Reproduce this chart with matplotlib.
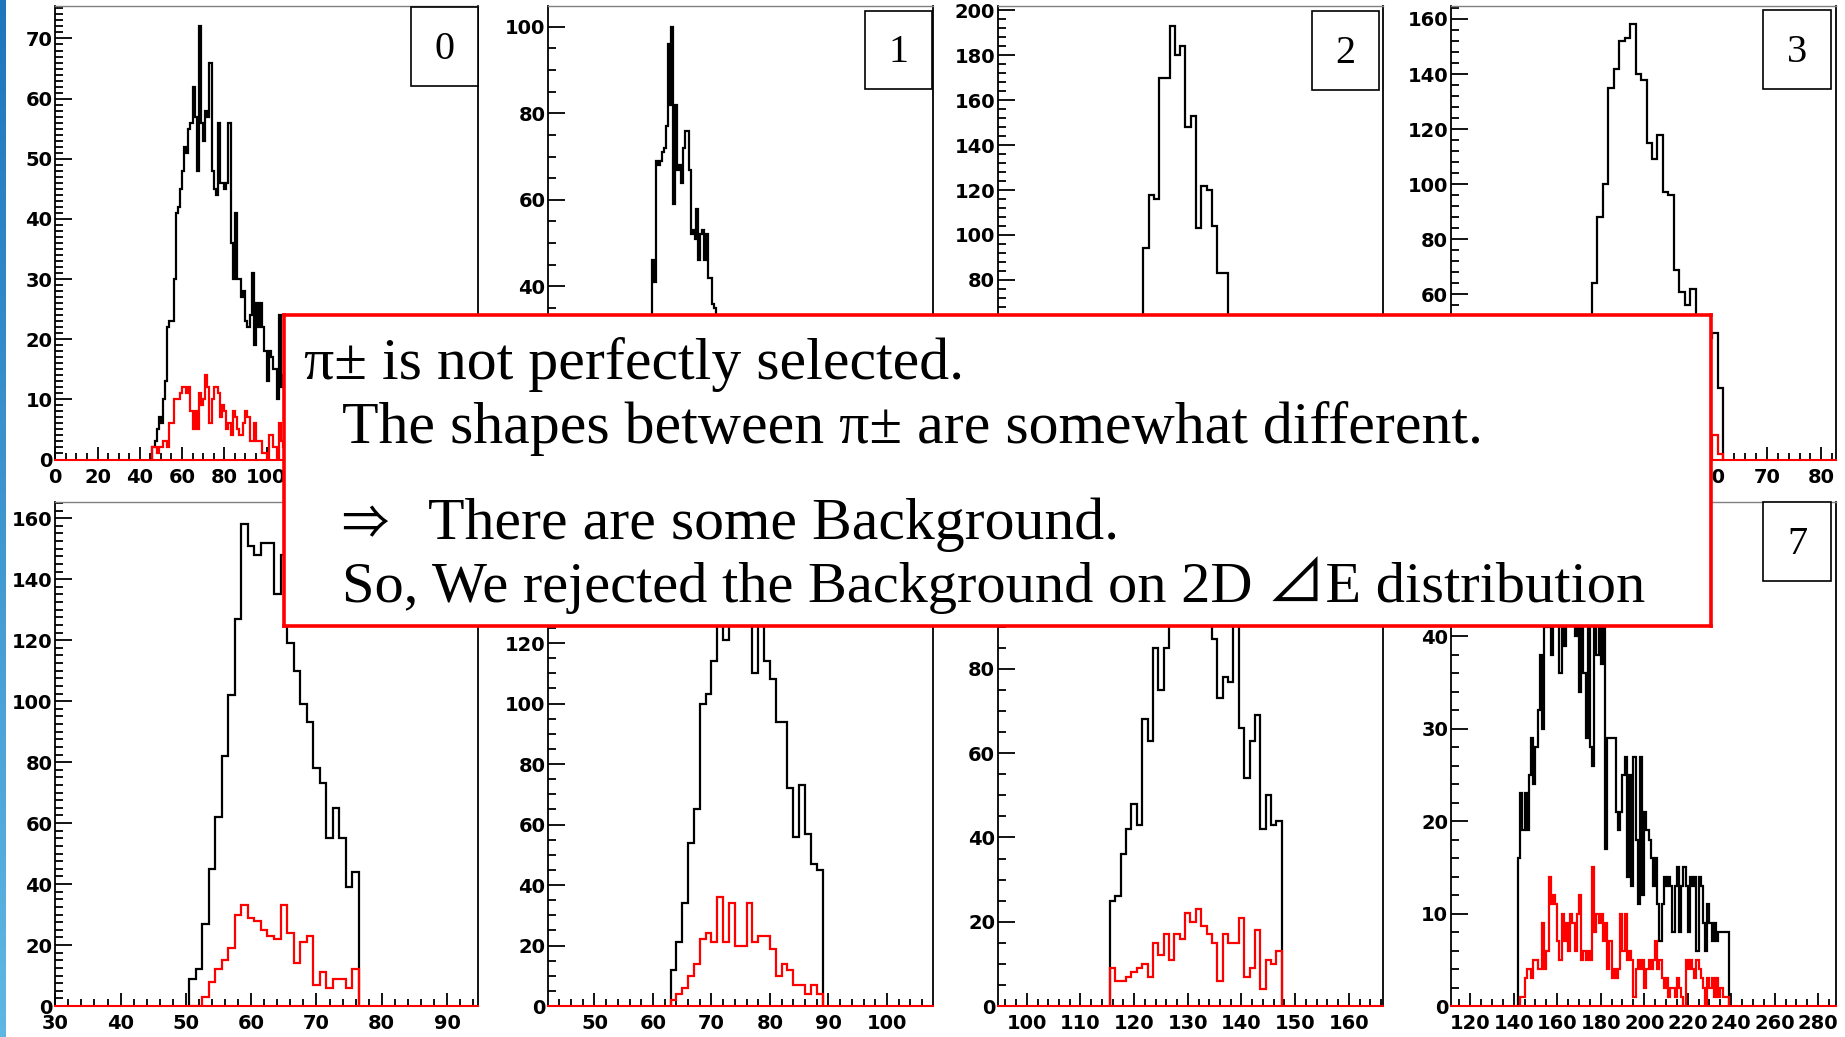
import numpy as np
import matplotlib.pyplot as plt
from matplotlib.patches import Rectangle
from matplotlib.ticker import MultipleLocator

W, H = 1845, 1037
plt.rcParams['font.family'] = ['DejaVu Sans']

# counts per unit-width bin; each series starts at the given lower bin edge
black0_start = 46
black0 = [2, 3, 5, 7, 6, 10, 13, 22, 23, 23, 30, 41, 42, 45, 48, 52, 51, 55, 56, 62,
          57, 48, 72, 56, 53, 58, 57, 66, 48, 45, 44, 56, 46, 46, 45, 46, 56, 36, 30, 41,
          30, 30, 27, 28, 23, 22, 24, 31, 19, 26, 22, 26, 22, 18, 13, 18, 17, 15, 15, 10,
          24, 12, 14, 9, 11, 8, 7, 9, 5, 6, 4, 3, 4, 2, 2, 1, 1]
red0_start = 46
red0 = [2, 2, 1, 2, 2, 3, 3, 2, 6, 6, 10, 10, 10, 11, 12, 12, 11, 12, 8, 5,
        8, 5, 11, 9, 10, 14, 12, 6, 10, 12, 12, 11, 7, 9, 8, 5, 6, 4, 8, 7,
        5, 4, 4, 6, 8, 7, 3, 3, 6, 3, 3, 3, 1, 1, 0, 4, 4, 2, 2, 0,
        6, 3, 2, 4, 1, 2, 1]

black1_start = 47
black1 = [1, 3, 6, 10, 16, 24, 30, 46, 41, 69, 68, 69, 71, 72, 77, 96, 82, 100, 59, 82,
          67, 68, 64, 72, 76, 76, 67, 52, 53, 51, 58, 46, 52, 53, 46, 52, 42, 42, 36, 35,
          30, 28, 25, 20, 18, 15, 12, 10, 8, 6, 4, 3, 2, 1]

black2_start = 122
black2 = [94, 118, 116, 170, 170, 193, 180, 184, 148, 153, 103, 122, 120, 104, 83, 83]

black3_start = 38
black3 = [64, 88, 100, 135, 142, 152, 153, 158, 140, 138, 115, 109, 118, 97, 96, 69,
          61, 56, 62, 52, 48, 44, 46, 26]
red3_start = 59
red3 = [0, 9, 2]

black4_start = 50.5
black4 = [9, 12, 27, 45, 62, 82, 102, 127, 158, 151, 148, 152, 152, 135, 148, 119,
          110, 99, 93, 78, 73, 55, 65, 55, 39, 44]
red4_start = 50.5
red4 = [0, 0, 3, 8, 12, 15, 19, 30, 33, 29, 28, 25, 23, 22, 33, 24,
        14, 21, 23, 7, 11, 6, 9, 9, 6, 12]

black5_start = 63
black5 = [12, 21, 34, 54, 65, 100, 103, 114, 135, 121, 150, 158, 146, 152, 110, 138,
          114, 108, 94, 94, 72, 56, 73, 57, 47, 45]
red5_start = 63
red5 = [2, 4, 6, 10, 14, 22, 24, 21, 36, 21, 34, 20, 20, 34, 21, 23,
        23, 19, 10, 14, 12, 7, 7, 4, 7, 4]

black6_start = 115.5
black6 = [25, 26, 36, 42, 48, 43, 68, 63, 85, 75, 85, 96, 104, 110, 102, 108,
          112, 98, 106, 87, 73, 78, 77, 95, 66, 54, 63, 69, 42, 50, 43, 44]
red6_start = 115.5
red6 = [9, 6, 6, 7, 8, 9, 10, 7, 15, 12, 17, 11, 17, 16, 22, 20,
        23, 19, 17, 15, 6, 17, 15, 15, 21, 7, 9, 18, 4, 11, 10, 13]

black7_start = 142
black7 = [16, 23, 19, 23, 19, 25, 29, 24, 28, 32, 38, 30, 45, 41, 48, 38, 45, 42, 50, 36,
          47, 39, 44, 42, 46, 52, 40, 44, 34, 43, 36, 29, 42, 28, 26, 44, 38, 45, 37, 50,
          17, 29, 29, 29, 29, 21, 19, 21, 25, 27, 14, 25, 13, 27, 18, 11, 27, 12, 21, 19,
          18, 16, 13, 16, 11, 7, 11, 14, 13, 14, 13, 8, 13, 15, 8, 13, 15, 13, 8, 14,
          13, 14, 6, 14, 13, 9, 6, 11, 9, 7, 9, 7, 8, 8, 8, 8, 8]
red7_start = 142
red7 = [0, 1, 1, 3, 4, 4, 3, 5, 5, 4, 4, 9, 4, 6, 14, 11, 12, 11, 7, 5,
        10, 7, 9, 6, 10, 9, 6, 10, 12, 5, 6, 5, 6, 5, 15, 8, 10, 9, 10, 7,
        9, 4, 7, 3, 4, 3, 4, 10, 6, 10, 5, 6, 5, 1, 4, 5, 4, 5, 2, 4,
        5, 4, 5, 7, 4, 5, 3, 2, 3, 1, 2, 2, 1, 3, 2, 1, 0, 5, 4, 5,
        4, 3, 5, 4, 3, 2, 0, 3, 2, 3, 1, 3, 1, 2, 1, 1, 1]

note_lines = [
    'π± is not perfectly selected.',
    'The shapes between π± are somewhat different.',
    '⇒',
    'There are some Background.',
    'So, We rejected the Background on 2D ⊿E distribution',
]


def px_rect(x0, y0, x1, y1):
    return [x0 / W, 1 - y1 / H, (x1 - x0) / W, (y1 - y0) / H]


def draw_hist(ax, start, counts, color):
    edges = start + np.arange(len(counts) + 1)
    ax.stairs(counts, edges, baseline=0, color=color, lw=1.6, zorder=2)


panels = [
    dict(tag='0', frame=(55.3, 6, 477.7, 459.5), xlim=(0, 200), ylim=(0, 75.4),
         xt=(20, 5), yt=(10, 1), black=(black0_start, black0), red=(red0_start, red0),
         box=(411, 7, 478, 86)),
    dict(tag='1', frame=(548.3, 6, 933.1, 459.5), xlim=(0, 200), ylim=(0, 104.8),
         xt=(20, 5), yt=(20, 5), black=(black1_start, black1), red=None,
         box=(865, 10.7, 932, 89)),
    dict(tag='2', frame=(997.8, 6, 1382.6, 459.5), xlim=(94.4, 167.4), ylim=(0, 202),
         xt=(10, 2), yt=(20, 4), black=(black2_start, black2), red=None,
         box=(1311.7, 10.7, 1379, 89.7)),
    dict(tag='3', frame=(1450.9, 6, 1835.6, 459.5), xlim=(12.2, 82.6), ylim=(0, 164.7),
         xt=(10, 2), yt=(20, 4), black=(black3_start, black3), red=(red3_start, red3),
         box=(1763, 10, 1831, 89)),
    dict(tag='4', frame=(55.3, 502.4, 477.7, 1006), xlim=(30, 94.7), ylim=(0, 165.2),
         xt=(10, 2), yt=(20, 2.5), black=(black4_start, black4), red=(red4_start, red4),
         box=(411, 503, 478, 582)),
    dict(tag='5', frame=(548.3, 502.4, 933.1, 1006), xlim=(42.1, 107.9), ylim=(0, 166.5),
         xt=(10, 2), yt=(20, 5), black=(black5_start, black5), red=(red5_start, red5),
         box=(865, 505, 932, 584)),
    dict(tag='6', frame=(997.8, 502.4, 1382.6, 1006), xlim=(94.6, 166.3), ylim=(0, 119.5),
         xt=(10, 2), yt=(20, 5), black=(black6_start, black6), red=(red6_start, red6),
         box=(1312, 505, 1379, 584)),
    dict(tag='7', frame=(1450.9, 502.4, 1835.6, 1006), xlim=(111.1, 288), ylim=(0, 54.5),
         xt=(20, 5), yt=(10, 2), black=(black7_start, black7), red=(red7_start, red7),
         box=(1763, 502, 1831, 581)),
]

fig = plt.figure(figsize=(W / 100, H / 100), dpi=100)
fig.patch.set_facecolor('white')

# slide accent bar on the left edge
strip = fig.add_axes(px_rect(0, 0, 6, H))
shade = np.linspace(0, 1, 200)[:, None, None]
top_c = np.array([0.12, 0.46, 0.74])
bot_c = np.array([0.37, 0.72, 0.89])
strip.imshow(top_c * (1 - shade) + bot_c * shade, aspect='auto')
strip.axis('off')

tick_font = dict(family='DejaVu Sans', weight='bold', size=14)

for p in panels:
    ax = fig.add_axes(px_rect(*p['frame']))
    draw_hist(ax, p['black'][0], p['black'][1], 'black')
    if p['red'] is not None:
        draw_hist(ax, p['red'][0], p['red'][1], 'red')
    ax.set_xlim(*p['xlim'])
    ax.set_ylim(*p['ylim'])
    ax.xaxis.set_major_locator(MultipleLocator(p['xt'][0]))
    ax.xaxis.set_minor_locator(MultipleLocator(p['xt'][1]))
    ax.yaxis.set_major_locator(MultipleLocator(p['yt'][0]))
    ax.yaxis.set_minor_locator(MultipleLocator(p['yt'][1]))
    ax.tick_params(axis='both', which='both', direction='in', top=False, right=False,
                   width=1.3, color='black')
    ax.tick_params(axis='y', which='major', length=12, pad=2)
    ax.tick_params(axis='y', which='minor', length=6)
    ax.tick_params(axis='x', which='major', length=9.5, pad=6)
    ax.tick_params(axis='x', which='minor', length=5)
    for lab in ax.get_xticklabels() + ax.get_yticklabels():
        lab.set_fontproperties(tick_font)
    for side in ('left', 'right'):
        ax.spines[side].set_linewidth(1.3)
        ax.spines[side].set_color('black')
    ax.spines['top'].set_linewidth(1.0)
    ax.spines['top'].set_color('#808080')
    ax.spines['bottom'].set_linewidth(1.5)
    ax.spines['bottom'].set_color('red')

    bx0, by0, bx1, by1 = p['box']
    ax.add_patch(Rectangle((bx0 / W, 1 - by1 / H), (bx1 - bx0) / W, (by1 - by0) / H,
                           transform=fig.transFigure, facecolor='white',
                           edgecolor='black', lw=1.2, clip_on=False, zorder=5))
    ax.text((bx0 + bx1) / 2 / W, 1 - ((by0 + by1) / 2 + 3) / H, p['tag'],
            transform=fig.transFigure, ha='center', va='center', fontsize=29,
            family=['Liberation Serif', 'DejaVu Serif'], zorder=6)

# comment box laid over the middle of the grid
note = fig.add_axes(px_rect(283.6, 315.4, 1711, 626), zorder=10)
note.set_facecolor('white')
note.set_xticks([])
note.set_yticks([])
for s in note.spines.values():
    s.set_color('#ff0000')
    s.set_linewidth(2.6)

note_pos = [(303.6, 379), (342.4, 442.5), (341, 539), (428, 539), (342.4, 602.5)]
note_size = [43, 43, 34, 43, 42]
serif = ['Liberation Serif', 'Noto Sans CJK JP', 'DejaVu Serif']
for (x, y), size, line in zip(note_pos, note_size, note_lines):
    fam = ['Noto Sans CJK JP', 'DejaVu Serif'] if line == '⇒' else serif
    note.text(x / W, 1 - y / H, line, transform=fig.transFigure, ha='left',
              va='baseline', fontsize=size, family=fam, color='black')

fig.savefig('out.png', dpi=100, facecolor='white')
